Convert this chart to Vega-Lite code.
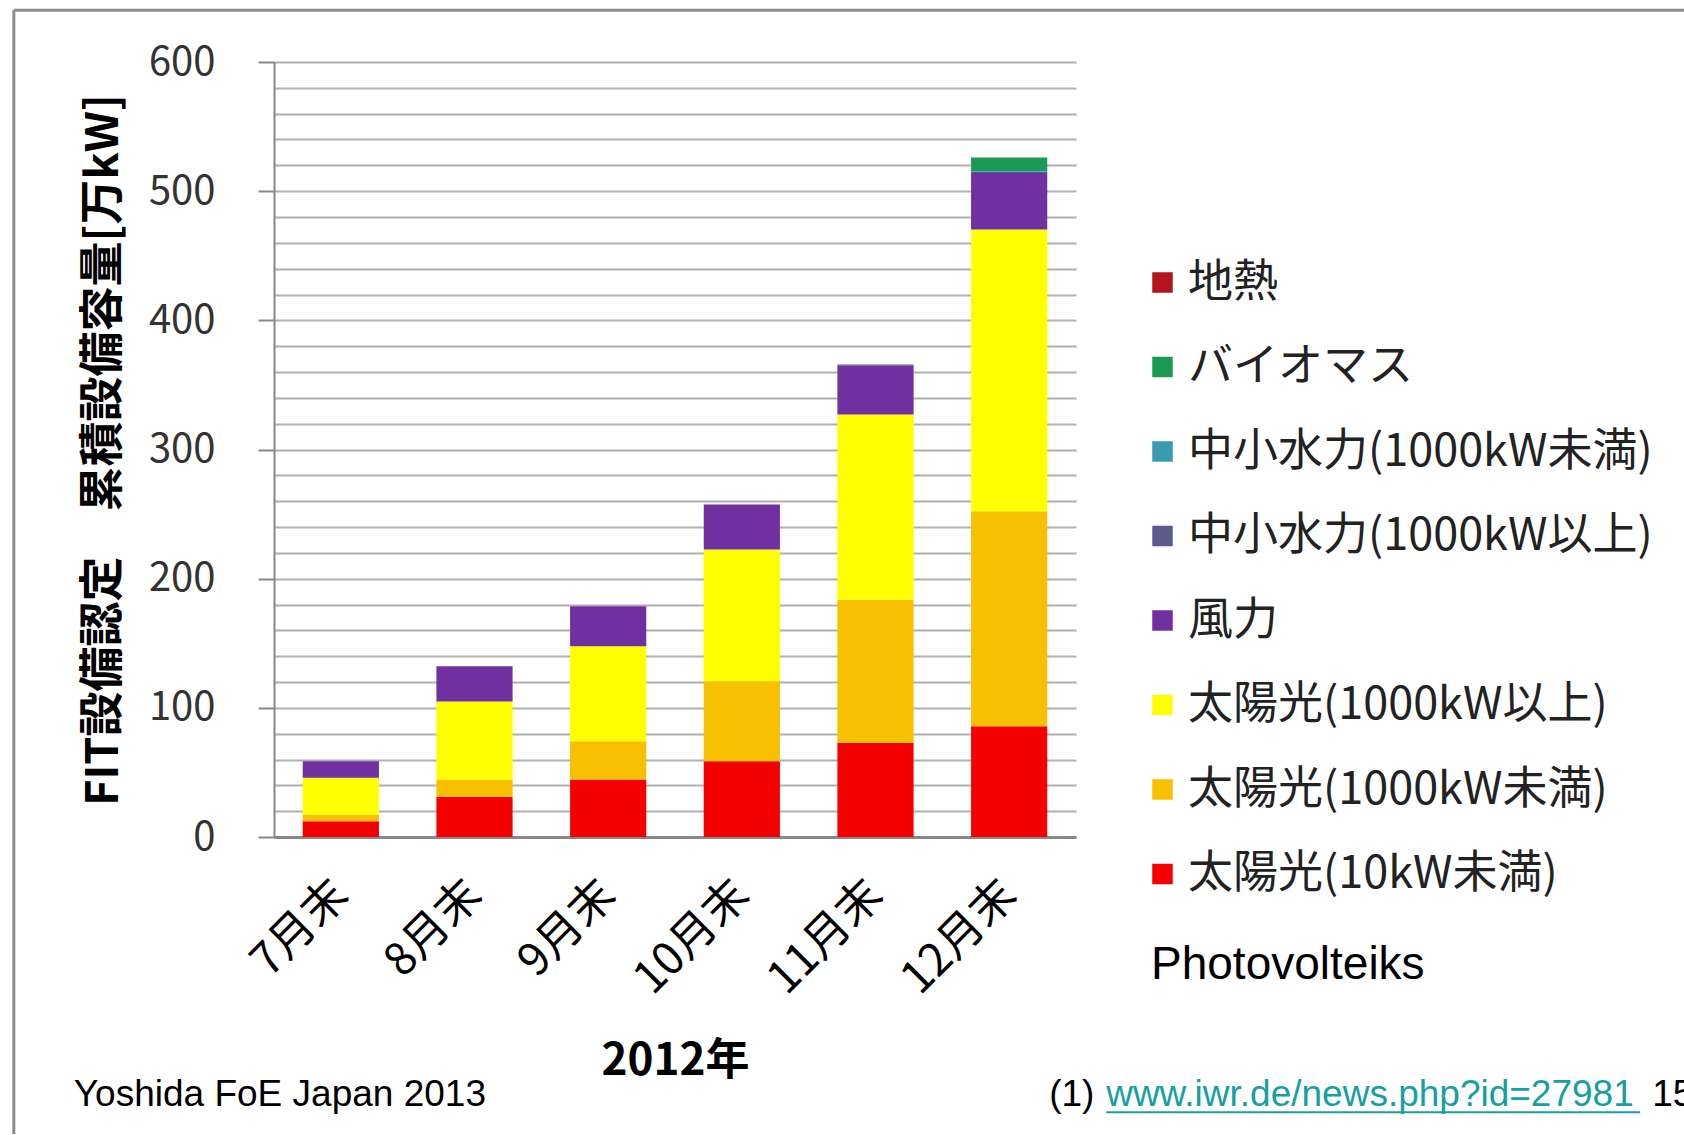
{
  "$schema": "https://vega.github.io/schema/vega-lite/v6.json",
  "width": 802,
  "height": 775,
  "autosize": {"type": "none"},
  "padding": {"left": 274, "top": 62, "right": 608, "bottom": 298},
  "background": "white",
  "config": {"view": {"stroke": null}},
  "resolve": {"axis": {"x": "independent", "y": "independent"}},
  "datasets": {
    "capacity": [
      {"month": "7月末", "source": "太陽光(10kW未満)", "capacity": 12.2},
      {"month": "7月末", "source": "太陽光(1000kW未満)", "capacity": 5.2},
      {"month": "7月末", "source": "太陽光(1000kW以上)", "capacity": 28.4},
      {"month": "7月末", "source": "風力", "capacity": 12.9},
      {"month": "8月末", "source": "太陽光(10kW未満)", "capacity": 31.1},
      {"month": "8月末", "source": "太陽光(1000kW未満)", "capacity": 13.4},
      {"month": "8月末", "source": "太陽光(1000kW以上)", "capacity": 60.5},
      {"month": "8月末", "source": "風力", "capacity": 27.2},
      {"month": "9月末", "source": "太陽光(10kW未満)", "capacity": 44.5},
      {"month": "9月末", "source": "太陽光(1000kW未満)", "capacity": 29.7},
      {"month": "9月末", "source": "太陽光(1000kW以上)", "capacity": 73.5},
      {"month": "9月末", "source": "風力", "capacity": 31.0},
      {"month": "10月末", "source": "太陽光(10kW未満)", "capacity": 58.7},
      {"month": "10月末", "source": "太陽光(1000kW未満)", "capacity": 61.9},
      {"month": "10月末", "source": "太陽光(1000kW以上)", "capacity": 102.0},
      {"month": "10月末", "source": "風力", "capacity": 34.8},
      {"month": "11月末", "source": "太陽光(10kW未満)", "capacity": 72.9},
      {"month": "11月末", "source": "太陽光(1000kW未満)", "capacity": 111.0},
      {"month": "11月末", "source": "太陽光(1000kW以上)", "capacity": 143.2},
      {"month": "11月末", "source": "風力", "capacity": 37.7},
      {"month": "11月末", "source": "中小水力(1000kW以上)", "capacity": 1.0},
      {"month": "12月末", "source": "太陽光(10kW未満)", "capacity": 85.8},
      {"month": "12月末", "source": "太陽光(1000kW未満)", "capacity": 166.4},
      {"month": "12月末", "source": "太陽光(1000kW以上)", "capacity": 218.1},
      {"month": "12月末", "source": "風力", "capacity": 43.7},
      {"month": "12月末", "source": "中小水力(1000kW以上)", "capacity": 1.0},
      {"month": "12月末", "source": "中小水力(1000kW未満)", "capacity": 0.7},
      {"month": "12月末", "source": "バイオマス", "capacity": 10.3}
    ],
    "sources": [
      {"source": "太陽光(10kW未満)", "rank": 1},
      {"source": "太陽光(1000kW未満)", "rank": 2},
      {"source": "太陽光(1000kW以上)", "rank": 3},
      {"source": "風力", "rank": 4},
      {"source": "中小水力(1000kW以上)", "rank": 5},
      {"source": "中小水力(1000kW未満)", "rank": 6},
      {"source": "バイオマス", "rank": 7},
      {"source": "地熱", "rank": 8}
    ]
  },
  "layer": [
    {
      "data": {"values": [{}]},
      "mark": {"type": "rule", "color": "#8c8c8c", "strokeWidth": 3, "xOffset": -327, "x2Offset": 676},
      "encoding": {
        "x": {"datum": "7月末", "type": "nominal", "scale": {"domain": ["7月末", "8月末", "9月末", "10月末", "11月末", "12月末"]}, "axis": null},
        "x2": {"datum": "12月末"},
        "y": {"datum": 640, "type": "quantitative", "scale": {"domain": [0, 600]}, "axis": null}
      }
    },
    {
      "data": {"values": [{}]},
      "mark": {"type": "rule", "color": "#8c8c8c", "strokeWidth": 3, "xOffset": -327},
      "encoding": {
        "x": {"datum": "7月末", "type": "nominal", "scale": {"domain": ["7月末", "8月末", "9月末", "10月末", "11月末", "12月末"]}, "axis": null},
        "y": {"datum": 640, "type": "quantitative", "scale": {"domain": [0, 600]}, "axis": null},
        "y2": {"datum": -230}
      }
    },
    {
      "data": {"name": "capacity"},
      "transform": [
        {"lookup": "source", "from": {"data": {"name": "sources"}, "key": "source", "fields": ["rank"]}}
      ],
      "mark": {"type": "bar"},
      "encoding": {
        "x": {
          "field": "month", "type": "nominal", "sort": null,
          "scale": {"domain": ["7月末", "8月末", "9月末", "10月末", "11月末", "12月末"], "paddingInner": 0.43, "paddingOuter": 0.215},
          "axis": {
            "title": "2012年", "titleFont": "Noto Sans CJK JP", "titleFontSize": 44, "titleFontWeight": "bold", "titleColor": "#000000", "titlePadding": 37,
            "labelAngle": -45, "labelAlign": "right", "labelBaseline": "middle",
            "labelFont": "Noto Sans CJK JP", "labelFontSize": 45, "labelColor": "#000000", "labelPadding": 50,
            "ticks": false, "grid": false, "domainColor": "#888888", "domainWidth": 3
          }
        },
        "y": {
          "field": "capacity", "type": "quantitative", "stack": "zero",
          "scale": {"domain": [0, 600], "nice": false},
          "axis": {
            "values": [0, 20, 40, 60, 80, 100, 120, 140, 160, 180, 200, 220, 240, 260, 280, 300, 320, 340, 360, 380, 400, 420, 440, 460, 480, 500, 520, 540, 560, 580, 600],
            "labelExpr": "datum.value % 100 === 0 ? datum.label : ''",
            "labelOverlap": false,
            "grid": true, "gridColor": "#b0b0b0", "gridWidth": 2,
            "ticks": true, "tickSize": 16, "tickColor": "#888888", "tickWidth": 2,
            "tickOpacity": {"condition": {"test": "datum.value % 100 === 0", "value": 1}, "value": 0},
            "domain": true, "domainColor": "#888888", "domainWidth": 2,
            "labelFont": "Noto Sans CJK JP", "labelFontSize": 40, "labelColor": "#333333", "labelPadding": 43,
            "title": "FIT設備認定　累積設備容量[万kW]",
            "titleFont": "Noto Sans CJK JP", "titleFontSize": 45, "titleFontWeight": "bold", "titleColor": "#000000", "titlePadding": 22
          }
        },
        "color": {
          "field": "source", "type": "nominal",
          "scale": {
            "domain": ["地熱", "バイオマス", "中小水力(1000kW未満)", "中小水力(1000kW以上)", "風力", "太陽光(1000kW以上)", "太陽光(1000kW未満)", "太陽光(10kW未満)"],
            "range": ["#b3151f", "#1a9a55", "#3a9ab0", "#5d5a8e", "#7030a0", "#ffff00", "#f7c000", "#f40000"]
          },
          "legend": {
            "orient": "none", "legendX": 877, "legendY": 198, "direction": "vertical",
            "title": "Photovolteiks", "titleOrient": "bottom", "titleAnchor": "start", "titleLimit": 800,
            "titleFont": "Liberation Sans", "titleFontSize": 46, "titleFontWeight": "normal", "titleColor": "#000000", "titlePadding": 46,
            "symbolType": "square", "symbolSize": 420, "symbolStrokeWidth": 0, "symbolOffset": -11,
            "labelFont": "Noto Sans CJK JP", "labelFontSize": 45, "labelColor": "#222222", "labelOffset": 3, "labelLimit": 700,
            "rowPadding": 38.5, "padding": 0
          }
        },
        "order": {"field": "rank", "type": "quantitative", "sort": "ascending"}
      }
    },
    {
      "data": {"values": [{}]},
      "mark": {"type": "text", "text": "Yoshida FoE Japan 2013", "font": "Liberation Sans", "fontSize": 37, "color": "#000000", "align": "left", "baseline": "alphabetic", "dx": -267},
      "encoding": {
        "x": {"datum": "7月末", "type": "nominal", "scale": {"domain": ["7月末", "8月末", "9月末", "10月末", "11月末", "12月末"]}, "axis": null},
        "y": {"datum": -208, "type": "quantitative", "scale": {"domain": [0, 600]}, "axis": null}
      }
    },
    {
      "data": {"values": [{}]},
      "mark": {"type": "text", "text": "(1)", "font": "Liberation Sans", "fontSize": 37, "color": "#000000", "align": "left", "baseline": "alphabetic", "dx": 40},
      "encoding": {
        "x": {"datum": "12月末", "type": "nominal", "scale": {"domain": ["7月末", "8月末", "9月末", "10月末", "11月末", "12月末"]}, "axis": null},
        "y": {"datum": -208, "type": "quantitative", "scale": {"domain": [0, 600]}, "axis": null}
      }
    },
    {
      "data": {"values": [{}]},
      "mark": {"type": "text", "text": "www.iwr.de/news.php?id=27981", "font": "Liberation Sans", "fontSize": 37, "color": "#16a0a0", "align": "left", "baseline": "alphabetic", "dx": 97},
      "encoding": {
        "x": {"datum": "12月末", "type": "nominal", "scale": {"domain": ["7月末", "8月末", "9月末", "10月末", "11月末", "12月末"]}, "axis": null},
        "y": {"datum": -208, "type": "quantitative", "scale": {"domain": [0, 600]}, "axis": null}
      }
    },
    {
      "data": {"values": [{}]},
      "mark": {"type": "rule", "color": "#16a0a0", "strokeWidth": 2, "xOffset": 97, "x2Offset": 631},
      "encoding": {
        "x": {"datum": "12月末", "type": "nominal", "scale": {"domain": ["7月末", "8月末", "9月末", "10月末", "11月末", "12月末"]}, "axis": null},
        "x2": {"datum": "12月末"},
        "y": {"datum": -213, "type": "quantitative", "scale": {"domain": [0, 600]}, "axis": null}
      }
    },
    {
      "data": {"values": [{}]},
      "mark": {"type": "text", "text": "15", "font": "Liberation Sans", "fontSize": 37, "color": "#000000", "align": "left", "baseline": "alphabetic", "dx": 643},
      "encoding": {
        "x": {"datum": "12月末", "type": "nominal", "scale": {"domain": ["7月末", "8月末", "9月末", "10月末", "11月末", "12月末"]}, "axis": null},
        "y": {"datum": -208, "type": "quantitative", "scale": {"domain": [0, 600]}, "axis": null}
      }
    }
  ]
}
